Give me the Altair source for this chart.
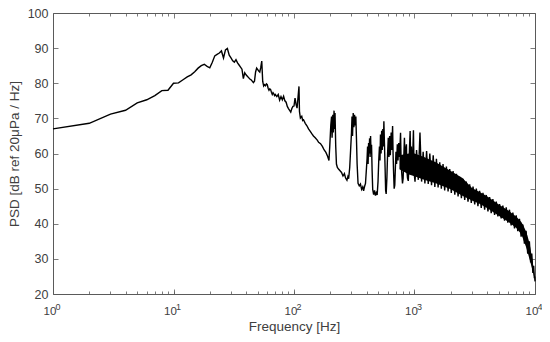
import altair as alt
import pandas as pd

# ---- data ----
freq_main = [
    1, 2, 3, 4, 5, 6, 7, 8, 9, 10,
    11, 12, 13, 14, 15, 16, 17, 18, 19, 20,
    21, 22, 23, 24, 25, 26, 27, 28, 29, 30,
    31, 32, 33, 34, 35, 36, 37, 38, 39, 40,
    41, 42, 43, 44, 45, 46, 47, 48, 49, 50,
    51, 52, 53, 54, 55, 56, 57, 58, 59, 60,
    61, 62, 63, 64, 65, 66, 67, 68, 69, 70,
    72, 74, 76, 78, 80, 82, 84, 86, 88, 90,
    92, 94, 96, 98, 100, 102, 104, 106, 108, 110,
    111, 113, 116, 118, 120, 124, 128, 132, 136, 140,
    145, 150, 156, 160, 166, 172, 178, 184, 190, 195,
    198, 202, 205, 207, 210, 212, 215, 217, 219, 222,
    225, 229, 235, 242, 248, 255, 262, 268, 275, 280,
    284, 290, 295, 300, 303, 306, 310, 314, 318, 322,
    326, 330, 334, 340, 348, 356, 364, 372, 378, 385,
    392, 398, 404, 408, 412, 416, 420, 424, 428, 432,
    436, 440, 445, 450, 458, 466, 474, 482, 490, 498,
    505, 512, 517, 522, 528, 534, 540, 546, 552, 557,
    563, 570, 576, 582, 590, 598, 606, 614, 622, 630,
    640, 648, 658, 664, 670, 678, 686, 694, 702, 710,
    720, 730, 740, 752, 766, 775, 785, 795, 805, 815,
    825, 835, 845, 857, 865, 875, 888, 898, 910, 920,
    930, 942, 955, 968, 980, 990, 1000,
]
psd_main = [
    67.0, 68.6, 71.2, 72.3, 74.4, 75.3, 76.5, 77.9, 78.0, 80.0,
    80.1, 81.0, 81.8, 82.4, 83.3, 84.3, 85.0, 85.4, 84.8, 84.4,
    86.0, 87.8, 88.2, 88.6, 89.2, 87.2, 89.5, 89.9, 88.0, 87.2,
    86.4, 86.0, 86.7, 85.8, 85.2, 84.6, 84.0, 81.3, 83.0, 82.4,
    82.0, 81.6, 81.2, 81.0, 80.6, 80.2, 80.6, 83.2, 84.3, 83.9,
    83.5, 83.2, 84.5, 86.3, 80.5, 79.2, 79.6, 79.3, 79.8, 79.6,
    78.6, 78.0, 78.4, 78.2, 77.4, 76.8, 77.3, 77.0, 76.5, 76.8,
    76.2, 76.8, 75.2, 76.2, 75.3, 76.3, 75.0, 74.6, 73.4, 72.8,
    72.3, 71.8, 72.8, 73.4, 73.5, 75.8, 74.0, 72.9, 76.0, 79.1,
    72.0, 70.1, 70.6, 69.4, 69.6, 68.6, 67.9, 67.0, 66.4, 65.7,
    65.0, 64.5, 63.8, 63.2, 62.8, 62.0, 61.0, 60.3, 59.2, 58.0,
    62.0, 68.0, 70.5, 64.5, 71.0, 66.0, 72.2, 67.0, 71.5, 62.0,
    57.0, 56.0, 55.5, 55.0, 54.6, 53.6, 54.3, 53.0, 52.4, 53.4,
    52.8, 56.0, 61.0, 66.0, 70.5, 65.0, 71.5, 67.5, 71.0, 68.0,
    70.5, 64.0, 57.0, 51.5, 50.8, 51.3, 49.8, 50.5, 49.4, 50.6,
    51.5, 55.0, 58.5, 62.0, 57.0, 63.0, 60.0, 64.3, 59.0, 65.0,
    60.0, 62.5, 55.0, 49.8, 48.3, 49.5, 48.0, 48.8, 48.2, 52.0,
    58.0, 62.0, 58.0, 65.4, 60.0, 66.5, 61.0, 67.0, 62.0, 69.2,
    63.0, 56.0, 49.5, 48.5, 53.0, 60.0, 64.5, 59.0, 65.0, 59.5,
    66.0, 61.0, 67.8, 60.0, 55.0, 50.0, 51.0, 56.0, 60.5, 57.0,
    62.6, 58.0, 63.0, 59.0, 65.9, 57.0, 54.0, 51.5, 53.0, 59.0,
    64.5, 57.0, 61.0, 62.6, 55.0, 53.0, 52.2, 56.0, 62.0, 66.4,
    58.0, 62.0, 55.0, 60.0, 66.6, 57.0, 53.5,
]
freq_hf = [
    1010, 1040, 1075, 1110, 1145, 1180, 1220, 1260, 1300, 1340,
    1385, 1430, 1475, 1520, 1570, 1620, 1670, 1725, 1780, 1840,
    1900, 1960, 2020, 2090, 2160, 2230, 2300, 2370, 2450, 2530,
    2610, 2690, 2780, 2870, 2960, 3060, 3160, 3260, 3360, 3470,
    3580, 3700, 3820, 3940, 4070, 4200, 4330, 4470, 4620, 4770,
    4920, 5080, 5240, 5410, 5590, 5770, 5950, 6140, 6340, 6550,
    6760, 6980, 7200, 7430, 7670, 7920, 8170, 8430, 8700, 8980,
    9200, 9400, 9600, 9750, 9880, 9960, 10000,
]
psd_hf = [
    52.0, 61.0, 52.5, 66.0, 52.0, 60.5, 51.5, 60.7, 51.3, 60.0,
    51.0, 59.5, 50.5, 58.5, 50.3, 57.5, 50.0, 57.0, 49.5, 56.3,
    49.2, 55.6, 48.8, 55.0, 48.3, 54.2, 47.8, 53.4, 47.3, 52.8,
    46.8, 52.0, 46.3, 51.2, 45.9, 50.6, 45.5, 50.0, 45.0, 49.4,
    44.5, 48.8, 44.0, 48.2, 43.5, 47.6, 43.0, 47.0, 42.5, 46.3,
    42.1, 45.6, 41.5, 45.2, 40.9, 44.7, 40.3, 44.0, 39.5, 43.2,
    38.7, 42.4, 37.9, 41.4, 36.3, 39.8, 34.3, 38.0, 31.5, 35.0,
    29.0, 31.5, 26.0, 28.0, 24.5, 25.0, 23.6,
]
# dense core of the comb region
band_freq = [750, 900, 1000, 1200, 1500, 2000, 2500, 3000, 3500, 4000,
             5000, 6000, 7000, 7700, 8000, 8500, 9000, 9500, 10000]
band_low = [55.5, 54.0, 53.5, 52.5, 51.5, 49.8, 48.0, 46.6, 45.6, 44.5,
            42.3, 40.6, 38.8, 37.0, 35.5, 33.0, 30.0, 27.0, 23.8]
band_high = [59.5, 60.0, 60.0, 59.0, 57.5, 55.0, 53.0, 50.2, 49.0, 47.8,
             45.5, 43.8, 42.0, 40.5, 39.5, 37.5, 34.5, 29.8, 24.2]

x_major = [1, 10, 100, 1000, 10000]
x_minor = [2, 3, 4, 5, 6, 7, 8, 9,
           20, 30, 40, 50, 60, 70, 80, 90,
           200, 300, 400, 500, 600, 700, 800, 900,
           2000, 3000, 4000, 5000, 6000, 7000, 8000, 9000]
y_ticks = [20, 30, 40, 50, 60, 70, 80, 90, 100]

line_df = pd.DataFrame({"f": freq_main + freq_hf, "psd": psd_main + psd_hf})
band_df = pd.DataFrame({"f": band_freq, "lo": band_low, "hi": band_high})

FONT = "Liberation Sans"
AX = "#5a5a5a"
LBL = "#404040"

xscale = alt.Scale(type="log", domain=[1, 10000], nice=False)
yscale = alt.Scale(domain=[20, 100], nice=False, zero=False)

common = dict(grid=False, domain=False, tickColor=AX, tickWidth=0.8,
              labelFont=FONT, labelColor=LBL, titleFont=FONT, titleColor=LBL,
              titleFontWeight="normal", labelFlush=False, labelOverlap=False)

exp_expr = ("indexof([1,10,100,1000,10000], datum.value) >= 0 ? "
            "toString(round(log(datum.value)/LN10)) : ''")

band = alt.Chart(band_df).mark_area(color="black").encode(
    x=alt.X("f:Q", scale=xscale,
            axis=alt.Axis(orient="bottom", values=x_major, tickSize=5, offset=-5,
                          labelExpr="'10'", labelFontSize=11.5, labelOffset=-3.5,
                          labelPadding=11, title="Frequency [Hz]",
                          titleFontSize=13.5, titlePadding=3, **common)),
    y=alt.Y("lo:Q", scale=yscale,
            axis=alt.Axis(orient="left", values=y_ticks, tickSize=5, offset=-5,
                          labelFontSize=12.5, labelPadding=5,
                          title="PSD [dB ref 20μPa / Hz]", titleFontSize=13.5,
                          titlePadding=6, **common)),
    y2="hi:Q",
)

line = alt.Chart(line_df).mark_line(color="black", strokeWidth=1.4).encode(
    x=alt.X("f:Q", scale=xscale,
            axis=alt.Axis(orient="bottom", values=x_major + x_minor, tickSize=3,
                          offset=-3, labelExpr=exp_expr, labelFontSize=9,
                          labelOffset=4.5, labelPadding=8, title=None, **common)),
    y=alt.Y("psd:Q", scale=yscale,
            axis=alt.Axis(orient="right", values=y_ticks, tickSize=5, offset=-5,
                          labels=False, title=None, **common)),
)

top_major = alt.Chart(line_df).mark_line(opacity=0).encode(
    x=alt.X("f:Q", scale=xscale,
            axis=alt.Axis(orient="top", values=x_major, tickSize=5, offset=-5,
                          labels=False, title=None, **common)),
    y=alt.Y("psd:Q", scale=yscale, axis=None),
)

top_minor = alt.Chart(line_df).mark_line(opacity=0).encode(
    x=alt.X("f:Q", scale=xscale,
            axis=alt.Axis(orient="top", values=x_minor, tickSize=3, offset=-3,
                          labels=False, title=None, **common)),
    y=alt.Y("psd:Q", scale=yscale, axis=None),
)

chart = alt.layer(band, line, top_major, top_minor).resolve_axis(
    x="independent", y="independent"
).properties(
    width=482, height=281,
    padding={"left": 45, "top": 5, "right": 7, "bottom": 40},
    autosize=alt.AutoSizeParams(type="none"),
    background="white",
).configure_view(stroke=AX, strokeWidth=1)

chart.save("out.html", embed_options={"renderer": "svg", "actions": False})
